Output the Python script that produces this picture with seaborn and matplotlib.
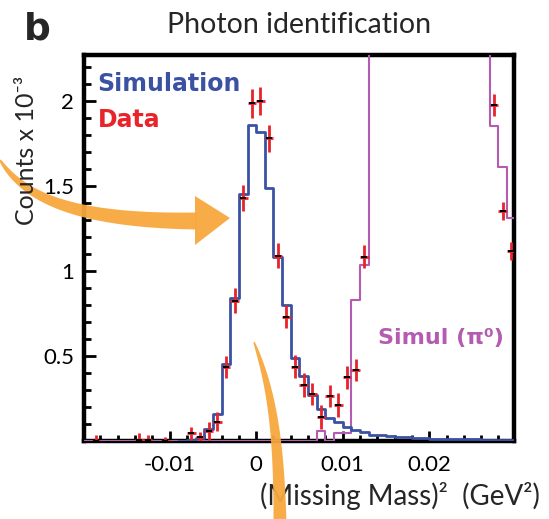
import numpy as np
import matplotlib
matplotlib.use("Agg")
import matplotlib.pyplot as plt
from matplotlib.patches import Polygon
from matplotlib.ticker import MultipleLocator
import seaborn as sns

# --- data (counts x 10^-3, bins of 0.001 GeV^2) ---
sim_edges = np.round(np.arange(-0.009, 0.0301, 0.001), 4)
sim_counts = [0.0, 0.005, 0.015, 0.07, 0.16, 0.455, 0.84, 1.45, 1.86,
              1.82, 1.49, 1.08, 0.80, 0.49, 0.38, 0.27, 0.19, 0.135, 0.11,
              0.08, 0.065, 0.05, 0.038, 0.035, 0.032, 0.025, 0.022, 0.017, 0.015,
              0.014, 0.011, 0.010, 0.011, 0.009, 0.010, 0.008, 0.008, 0.007, 0.007]

pi0_edges = np.round(np.arange(-0.020, 0.0301, 0.001), 4)
pi0_counts = [0.0] * 27 + [0.06, 0.0, 0.045, 0.045, 0.83, 1.035, 2.9, 4.0, 5.2,
                           6.3, 7.0, 7.2, 6.7, 5.9, 5.0, 4.2, 3.5, 3.0, 2.7,
                           2.4, 1.85, 1.61, 1.31]

data_x = [-0.0185, -0.0135, -0.0125, -0.0105, -0.0075, -0.0065, -0.0055, -0.0045,
          -0.0035, -0.0025, -0.0015, -0.0005, 0.0005, 0.0015, 0.0025, 0.0035,
          0.0045, 0.0055, 0.0065, 0.0075, 0.0085, 0.0095, 0.0105, 0.0115,
          0.0125, 0.0275, 0.0285, 0.0295]
data_y = [0.0, 0.005, 0.005, 0.0, 0.045, 0.024, 0.06, 0.114,
          0.437, 0.825, 1.428, 1.986, 2.0, 1.78, 1.09, 0.731,
          0.437, 0.329, 0.276, 0.143, 0.265, 0.212, 0.375, 0.418,
          1.084, 1.976, 1.353, 1.12]
data_err = [0.035, 0.04, 0.03, 0.025, 0.037, 0.03, 0.054, 0.056,
            0.065, 0.074, 0.075, 0.085, 0.081, 0.081, 0.074, 0.069,
            0.069, 0.069, 0.064, 0.07, 0.063, 0.069, 0.069, 0.065,
            0.069, 0.066, 0.053, 0.053]
data_xerr = 0.0005

xtick_values = [-0.01, 0, 0.01, 0.02]
xtick_labels = ['-0.01', '0', '0.01', '0.02']
ytick_values = [0.5, 1, 1.5, 2]
ytick_labels = ['0.5', '1', '1.5', '2']

BLUE = '#3b52a3'
RED = '#e8232a'
PURPLE = '#b45cb2'
ORANGE = '#f7a83e'

W, H = 549, 519


def fx(x):
    return x / W


def fy(y):
    return 1 - y / H


def tapered_band(p0, p1, p2, p3, width, n=80):
    # cubic bezier centre line in image pixels, width grows from ~0 at p0
    t = np.linspace(0, 1, n)[:, None]
    P = [np.array(p, float) for p in (p0, p1, p2, p3)]
    c = (1 - t) ** 3 * P[0] + 3 * (1 - t) ** 2 * t * P[1] + 3 * (1 - t) * t ** 2 * P[2] + t ** 3 * P[3]
    d = 3 * (1 - t) ** 2 * (P[1] - P[0]) + 6 * (1 - t) * t * (P[2] - P[1]) + 3 * t ** 2 * (P[3] - P[2])
    d /= np.linalg.norm(d, axis=1)[:, None]
    nrm = np.column_stack([-d[:, 1], d[:, 0]])
    hw = 0.5 * width * (0.1 + 0.9 * t[:, 0] ** 0.7)
    left = c + nrm * hw[:, None]
    right = c - nrm * hw[:, None]
    pts = np.vstack([left, right[::-1]])
    return np.column_stack([fx(pts[:, 0]), fy(pts[:, 1])])


def generate_chart():
    sns.set_theme(style="ticks")
    plt.rcParams['font.family'] = ['Lato', 'DejaVu Sans']
    plt.rcParams['axes.unicode_minus'] = False

    fig = plt.figure(figsize=(W / 100, H / 100), dpi=100)
    ax = fig.add_axes([fx(84), fy(441), (514 - 84) / W, (441 - 55) / H])

    sns.histplot(x=(pi0_edges[:-1] + pi0_edges[1:]) / 2, weights=pi0_counts, bins=list(pi0_edges),
                 element='step', fill=False, color=PURPLE, linewidth=1.5, ax=ax, zorder=3)
    sns.histplot(x=(sim_edges[:-1] + sim_edges[1:]) / 2, weights=sim_counts, bins=list(sim_edges),
                 element='step', fill=False, color=BLUE, linewidth=2.0, ax=ax, zorder=4)

    ax.errorbar(data_x, data_y, yerr=data_err, xerr=data_xerr, fmt='none',
                ecolor=RED, elinewidth=2.0, capsize=0, zorder=5)
    ax.plot(data_x, data_y, linestyle='none', marker='_', color='black',
            markersize=4, markeredgewidth=1.4, zorder=6)

    ax.set_xlim(-0.0199, 0.0298)
    ax.set_ylim(0, 2.27)
    ax.set_xticks(xtick_values, labels=xtick_labels)
    ax.set_yticks(ytick_values, labels=ytick_labels)
    ax.xaxis.set_minor_locator(MultipleLocator(0.002))
    ax.yaxis.set_minor_locator(MultipleLocator(0.1))
    ax.set_xlabel('')
    ax.set_ylabel('')
    for s in ax.spines.values():
        s.set_visible(True)
        s.set_linewidth(3.2)
        s.set_color('black')
    ax.tick_params(which='both', direction='in', color='black', width=2,
                   labelsize=16, labelcolor='black')
    ax.tick_params(axis='x', which='major', length=7, pad=10)
    ax.tick_params(axis='x', which='minor', length=4)
    ax.tick_params(axis='y', which='major', length=8.5, pad=7)
    ax.tick_params(axis='y', which='minor', length=5)

    # in-plot labels
    ax.text(fx(97), fy(91), 'Simulation', transform=fig.transFigure, color=BLUE,
            fontsize=17, fontweight='bold', family='DejaVu Sans', va='baseline')
    ax.text(fx(98), fy(127), 'Data', transform=fig.transFigure, color=RED,
            fontsize=17, fontweight='bold', family='DejaVu Sans', va='baseline')
    ax.text(fx(378), fy(344), 'Simul (π⁰)', transform=fig.transFigure, color=PURPLE,
            fontsize=16, fontweight='bold', family='DejaVu Sans', va='baseline')

    fig.text(fx(24), fy(39), 'b', fontsize=27, fontweight='bold', family='DejaVu Sans',
             va='baseline')
    fig.text(fx(299), fy(33), 'Photon identification', fontsize=20.5, ha='center',
             va='baseline')
    fig.text(fx(27), fy(150), 'Counts x 10⁻³', fontsize=18, rotation=90,
             ha='center', va='center', zorder=5)
    fig.text(fx(540), fy(505), '(Missing Mass)²  (GeV²)', fontsize=20,
             ha='right', va='baseline', zorder=5)

    # orange arrows
    fig.add_artist(Polygon(tapered_band((0, 160), (25, 200), (80, 221), (197, 221), 17),
                           closed=True, facecolor=ORANGE, edgecolor='none',
                           transform=fig.transFigure, zorder=2, alpha=0.95))
    fig.add_artist(Polygon([(fx(195), fy(196)), (fx(195), fy(245)), (fx(230), fy(218))],
                           closed=True, facecolor=ORANGE, edgecolor='none',
                           transform=fig.transFigure, zorder=2, alpha=0.95))
    fig.add_artist(Polygon(tapered_band((254, 342), (270, 385), (279, 430), (280, 525), 13),
                           closed=True, facecolor=ORANGE, edgecolor='none',
                           transform=fig.transFigure, zorder=10, alpha=0.95))

    fig.savefig('out.png', dpi=100)
    plt.close(fig)


if __name__ == "__main__":
    generate_chart()
